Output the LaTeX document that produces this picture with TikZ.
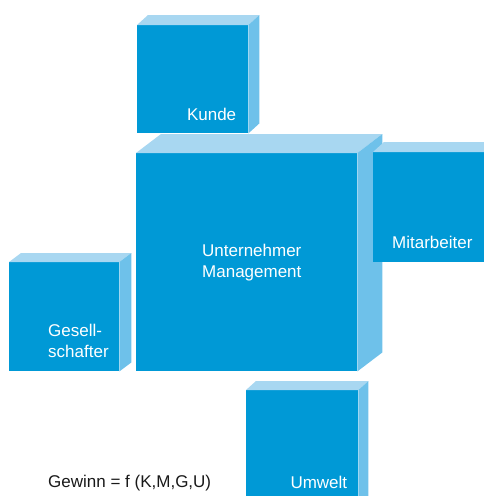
\documentclass[tikz,border=0pt]{standalone}
\usepackage{fontspec}
\setmainfont{Liberation Sans}
\usetikzlibrary{calc}
\definecolor{cubefront}{HTML}{0099D6}
\definecolor{cubetop}{HTML}{A8D7F1}
\definecolor{cubeside}{HTML}{6EC1EA}
\tikzset{
  front/.style={fill=cubefront,inner sep=0pt,anchor=north west},
  topf/.style={fill=cubetop},
  sidef/.style={fill=cubeside},
  lbl/.style={text=white,font=\fontsize{17}{20.5}\selectfont,inner sep=0pt,align=left},
  formel/.style={text=black!90,font=\fontsize{17}{20.5}\selectfont,inner sep=0pt},
}

\begin{document}
\begin{tikzpicture}[x=1pt,y=-1pt]
\useasboundingbox (0,0) rectangle (484,496);
\clip (0,0) rectangle (484,496);
  % Kunde
  \node[front,minimum width=111pt,minimum height=108pt] (kunde) at (137,25) {};
  \fill[topf] (kunde.north west) -- ++(11,-10) -- ($(kunde.north east)+(11,-10)$) -- (kunde.north east) -- cycle;
  \fill[sidef] (kunde.north east) -- ++(11,-10) -- ($(kunde.south east)+(11,-10)$) -- (kunde.south east) -- cycle;
  \node[lbl,anchor=base east] (kundetxt) at ($(kunde.south east)+(-12,-13)$) {Kunde};
  % Gesellschafter
  \node[front,minimum width=110pt,minimum height=109pt] (gesell) at (9,262) {};
  \fill[topf] (gesell.north west) -- ++(12,-9) -- ($(gesell.north east)+(12,-9)$) -- (gesell.north east) -- cycle;
  \fill[sidef] (gesell.north east) -- ++(12,-9) -- ($(gesell.south east)+(12,-9)$) -- (gesell.south east) -- cycle;
  \node[lbl,anchor=base west] (geselltxt) at ($(gesell.north west)+(39,95)$) {Gesell-\\schafter};
  % Unternehmer / Management
  \node[front,minimum width=221pt,minimum height=218pt] (unternehmer) at (136,153) {};
  \fill[topf] (unternehmer.north west) -- ++(25,-19) -- ($(unternehmer.north east)+(25,-19)$) -- (unternehmer.north east) -- cycle;
  \fill[sidef] (unternehmer.north east) -- ++(25,-19) -- ($(unternehmer.south east)+(25,-19)$) -- (unternehmer.south east) -- cycle;
  \node[lbl,anchor=base west] (unternehmertxt) at ($(unternehmer.north west)+(66,124)$) {Unternehmer\\Management};
  % Mitarbeiter
  \node[front,minimum width=120pt,minimum height=110pt] (mitarbeiter) at (373,152) {};
  \fill[topf] (mitarbeiter.north west) -- ++(11,-10) -- ($(mitarbeiter.north east)+(11,-10)$) -- (mitarbeiter.north east) -- cycle;
  \fill[sidef] (mitarbeiter.north east) -- ++(11,-10) -- ($(mitarbeiter.south east)+(11,-10)$) -- (mitarbeiter.south east) -- cycle;
  \node[lbl,anchor=base west] (mitarbeitertxt) at ($(mitarbeiter.north west)+(19,96)$) {Mitarbeiter};
  % Umwelt
  \node[front,minimum width=112pt,minimum height=120pt] (umwelt) at (246,390) {};
  \fill[topf] (umwelt.north west) -- ++(10,-9) -- ($(umwelt.north east)+(10,-9)$) -- (umwelt.north east) -- cycle;
  \fill[sidef] (umwelt.north east) -- ++(10,-9) -- ($(umwelt.south east)+(10,-9)$) -- (umwelt.south east) -- cycle;
  \node[lbl,anchor=base east] (umwelttxt) at ($(umwelt.north east)+(-11,98)$) {Umwelt};
  % Formel
  \node[formel,anchor=base west] (gewinn) at (48,487) {Gewinn = f (K,M,G,U)};
\end{tikzpicture}
\end{document}
